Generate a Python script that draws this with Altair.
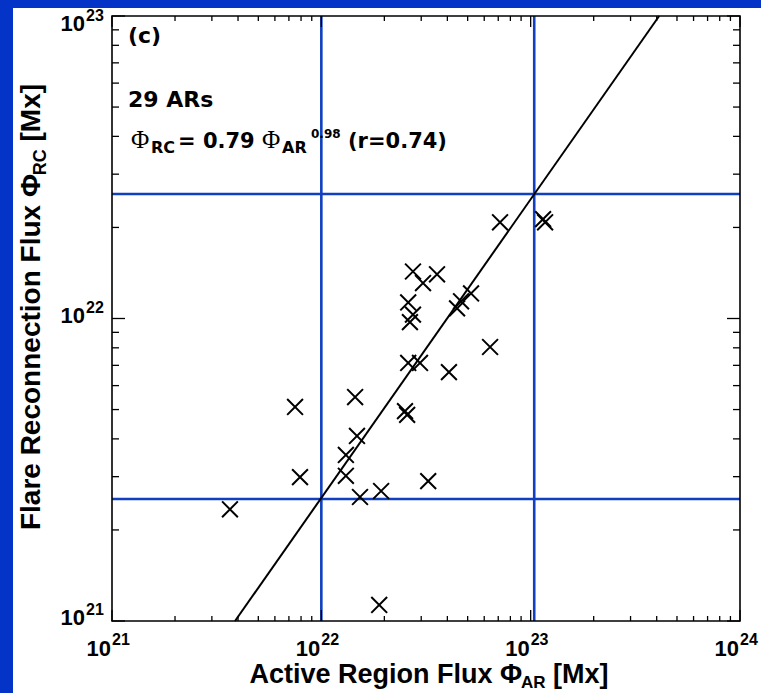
import altair as alt
import pandas as pd

# ---------------- data ----------------
ar_flux = [7.14e22, 1.146e23, 1.172e23, 2.74e22, 3.57e22, 3.06e22, 2.60e22, 2.74e22,
           2.65e22, 4.45e22, 4.65e22, 5.19e22, 6.40e22, 2.60e22, 2.96e22, 4.07e22,
           1.45e22, 2.51e22, 2.57e22, 1.48e22, 1.31e22, 1.31e22, 3.24e22, 1.53e22,
           1.93e22, 7.49e21, 7.91e21, 3.66e21, 1.89e22]
rc_flux = [2.08e22, 2.13e22, 2.08e22, 1.43e22, 1.40e22, 1.31e22, 1.13e22, 1.03e22,
           9.73e21, 1.08e22, 1.14e22, 1.21e22, 8.05e21, 7.13e21, 7.13e21, 6.65e21,
           5.50e21, 4.94e21, 4.80e21, 4.09e21, 3.54e21, 3.02e21, 2.90e21, 2.57e21,
           2.69e21, 5.10e21, 2.99e21, 2.34e21, 1.13e21]
fit_ar = [3.87e21, 4.11e23]
fit_rc = [1.0e21, 1.0e23]
blue_ar = [1.0e22, 1.04e23]
blue_rc = [2.53e21, 2.58e22]
x_major = [1e21, 1e22, 1e23, 1e24]
x_exp = ["21", "22", "23", "24"]
y_major = [1e21, 1e22, 1e23]
y_exp = ["21", "22", "23"]
minor_digits = [2, 3, 4, 5, 6, 7, 8, 9]
x_minor = [d * m for m in x_major[:-1] for d in minor_digits]
y_minor = [d * m for m in y_major[:-1] for d in minor_digits]

# ---------------- layout / style ----------------
W, H = 628, 605
PL, PT = 112, 16
BLUE_BG = "#0433c8"
BLUE_LINE = "#1040c0"
TF = "Liberation Sans"
AF = "DejaVu Sans"
PHI_F = "Liberation Serif"

xs = alt.Scale(type="log", domain=[1e21, 1e24], nice=False)
ys = alt.Scale(type="log", domain=[1e21, 1e23], nice=False)


def X(f):
    return alt.X(f"{f}:Q", scale=xs, axis=None)


def Y(f):
    return alt.Y(f"{f}:Q", scale=ys, axis=None)


one = pd.DataFrame({"k": [0]})
layers = []

# white panel on blue background
layers.append(alt.Chart(one).mark_rect(color="white").encode(
    x=alt.value(13 - PL), x2=alt.value(761 - PL),
    y=alt.value(8 - PT), y2=alt.value(693 - PT)))

# blue reference lines
layers.append(alt.Chart(pd.DataFrame({"v": blue_ar})).mark_rule(
    color=BLUE_LINE, strokeWidth=2.6).encode(x=X("v")))
layers.append(alt.Chart(pd.DataFrame({"v": blue_rc})).mark_rule(
    color=BLUE_LINE, strokeWidth=2.6).encode(y=Y("v")))

# fit line
layers.append(alt.Chart(pd.DataFrame({"ar": fit_ar, "rc": fit_rc})).mark_line(
    color="black", strokeWidth=2).encode(x=X("ar"), y=Y("rc")))

# data points as X symbols
X_SHAPE = "M-1,-1L1,1M-1,1L1,-1"
layers.append(alt.Chart(pd.DataFrame({"ar": ar_flux, "rc": rc_flux})).mark_point(
    shape=X_SHAPE, filled=False, color="black", strokeWidth=2, size=250, opacity=1
).encode(x=X("ar"), y=Y("rc")))

# frame
layers.append(alt.Chart(one).mark_rect(
    fillOpacity=0, stroke="black", strokeWidth=1.6).encode(
    x=alt.value(0), x2=alt.value(W), y=alt.value(0), y2=alt.value(H)))

# inward ticks on all four sides
for vals, ln in [(x_major, 11), (x_minor, 5)]:
    d = pd.DataFrame({"v": vals})
    layers.append(alt.Chart(d).mark_rule(color="black", strokeWidth=1.3).encode(
        x=X("v"), y=alt.value(H), y2=alt.value(H - ln)))
    layers.append(alt.Chart(d).mark_rule(color="black", strokeWidth=1.3).encode(
        x=X("v"), y=alt.value(0), y2=alt.value(ln)))
for vals, ln in [(y_major, 13), (y_minor, 7)]:
    d = pd.DataFrame({"v": vals})
    layers.append(alt.Chart(d).mark_rule(color="black", strokeWidth=1.3).encode(
        y=Y("v"), x=alt.value(0), x2=alt.value(ln)))
    layers.append(alt.Chart(d).mark_rule(color="black", strokeWidth=1.3).encode(
        y=Y("v"), x=alt.value(W), x2=alt.value(W - ln)))

# tick labels 10^n
LB, LE = 22, 16
xl = pd.DataFrame({"v": x_major, "e": x_exp})
layers.append(alt.Chart(xl).mark_text(
    text="10", align="right", baseline="alphabetic", fontSize=LB, font=TF,
    fontWeight="bold", dx=-1, color="black").encode(x=X("v"), y=alt.value(640)))
layers.append(alt.Chart(xl).mark_text(
    align="left", baseline="alphabetic", fontSize=LE, font=TF, fontWeight="bold",
    color="black").encode(x=X("v"), y=alt.value(629), text="e:N"))

yl = pd.DataFrame({"v": y_major, "e": y_exp})
for flt, shift in [("datum.v < 5e22", 0), ("datum.v > 5e22", 11)]:
    base = alt.Chart(yl).transform_filter(flt)
    layers.append(base.mark_text(
        text="10", align="right", baseline="alphabetic", fontSize=LB, font=TF,
        fontWeight="bold", dy=4 + shift, color="black").encode(
        y=Y("v"), x=alt.value(85 - PL)))
    layers.append(base.mark_text(
        align="left", baseline="alphabetic", fontSize=LE, font=TF, fontWeight="bold",
        dy=-6 + shift, color="black").encode(y=Y("v"), x=alt.value(86 - PL), text="e:N"))

# axis titles with subscripts
HB = {' ': 278, '(': 333, ')': 333, '[': 333, ']': 333, 'A': 722, 'C': 722, 'F': 611,
      'M': 833, 'R': 722, 'a': 556, 'c': 556, 'e': 556, 'g': 611, 'i': 278, 'l': 278,
      'n': 611, 'o': 611, 'r': 389, 's': 556, 't': 333, 'u': 611, 'v': 556, 'x': 556,
      'Φ': 780}


def tw(s, size):
    return sum(HB.get(c, 600) for c in s) * size / 1000.0


# x title
TS, SS = 27, 17
xt1, xt2, xt3 = "Active Region Flux Φ", "AR", "[Mx]"
gap = tw(" ", TS)
xw = tw(xt1, TS) + tw(xt2, SS) + gap + tw(xt3, TS)
x0 = (429 - PL) - xw / 2
xb = 683 - PT
layers.append(alt.Chart(one).mark_text(text=xt1, align="left", baseline="alphabetic",
    fontSize=TS, font=TF, fontWeight="bold", color="black").encode(
    x=alt.value(x0), y=alt.value(xb)))
layers.append(alt.Chart(one).mark_text(text=xt2, align="left", baseline="alphabetic",
    fontSize=SS, font=TF, fontWeight="bold", color="black").encode(
    x=alt.value(x0 + tw(xt1, TS)), y=alt.value(xb + 5)))
layers.append(alt.Chart(one).mark_text(text=xt3, align="left", baseline="alphabetic",
    fontSize=TS, font=TF, fontWeight="bold", color="black").encode(
    x=alt.value(x0 + tw(xt1, TS) + tw(xt2, SS) + gap), y=alt.value(xb)))

# y title (rotated)
YS, YSS = 28, 18
yt1, yt2, yt3 = "Flare Reconnection Flux Φ", "RC", "[Mx]"
ygap = tw(" ", YS)
yw = tw(yt1, YS) + tw(yt2, YSS) + ygap + tw(yt3, YS)
y0 = (307 - PT) + yw / 2
yb = 40 - PL
layers.append(alt.Chart(one).mark_text(text=yt1, align="left", baseline="alphabetic",
    angle=270, fontSize=YS, font=TF, fontWeight="bold", color="black").encode(
    x=alt.value(yb), y=alt.value(y0)))
layers.append(alt.Chart(one).mark_text(text=yt2, align="left", baseline="alphabetic",
    angle=270, fontSize=YSS, font=TF, fontWeight="bold", color="black").encode(
    x=alt.value(yb + 6), y=alt.value(y0 - tw(yt1, YS))))
layers.append(alt.Chart(one).mark_text(text=yt3, align="left", baseline="alphabetic",
    angle=270, fontSize=YS, font=TF, fontWeight="bold", color="black").encode(
    x=alt.value(yb), y=alt.value(y0 - tw(yt1, YS) - tw(yt2, YSS) - ygap)))

# annotations: (text, x, baseline y, size, font, weight)
AS, FS, ASUB = 22, 21, 16
ann = [
    ("(c)", 128, 43, AS, AF, "bold"),
    ("29 ARs", 128, 107, AS, AF, "bold"),
    ("Φ", 131, 148, 25, PHI_F, "normal"),
    ("RC", 151, 153, ASUB, AF, "bold"),
    ("= 0.79", 178, 148, FS, AF, "bold"),
    ("Φ", 262, 148, 25, PHI_F, "normal"),
    ("AR", 282, 153, ASUB, AF, "bold"),
    ("0.98", 311, 138, 12, AF, "bold"),
    ("(r=0.74)", 348, 148, FS, AF, "bold"),
]
for t, px, py, fs, fnt, fw in ann:
    layers.append(alt.Chart(one).mark_text(text=t, align="left", baseline="alphabetic",
        fontSize=fs, font=fnt, fontWeight=fw, color="black").encode(
        x=alt.value(px - PL), y=alt.value(py - PT)))

chart = alt.layer(*layers).properties(
    width=W, height=H,
    autosize=alt.AutoSizeParams(type="none"),
    padding={"left": PL, "top": PT, "right": 761 - PL - W, "bottom": 693 - PT - H},
    background=BLUE_BG,
).configure_view(stroke=None)

chart.save("out.html", embed_options={"renderer": "svg", "actions": False})
